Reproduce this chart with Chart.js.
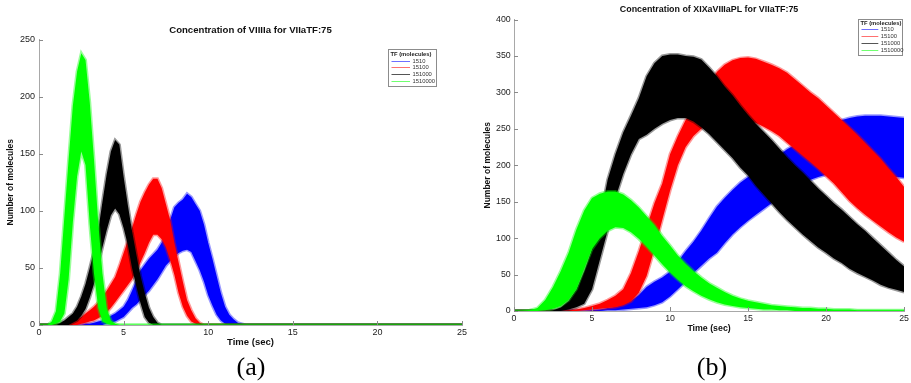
<!DOCTYPE html>
<html>
<head>
<meta charset="utf-8">
<script src="https://cdn.jsdelivr.net/npm/chart.js@4.4.1/dist/chart.umd.min.js"></script>
<style>
  body { margin: 0; background: #fff; width: 911px; height: 383px; overflow: hidden; position: relative; }
  .box { position: absolute; top: 0; height: 355px; }
  #boxA { left: 0; width: 470px; }
  #boxB { left: 470px; width: 441px; }
  .tag { position: absolute; top: 352px; font: 26px "Liberation Serif", "Times New Roman", serif; color: #000; transform: translateX(-50%); }
</style>
</head>
<body>
<div class="box" id="boxA"><canvas id="chartA"></canvas></div>
<div class="box" id="boxB"><canvas id="chartB"></canvas></div>
<div class="tag" style="left:251px">(a)</div>
<div class="tag" style="left:712px">(b)</div>
<script>
const seriesLabels = ['1510', '15100', '151000', '1510000'];
const seriesColors = ['#0000ff', '#ff0000', '#000000', '#00ff00'];
const edgeColors = ['rgba(0,0,255,0.4)', 'rgba(255,0,0,0.4)', 'rgba(0,0,0,0.4)', 'rgba(0,255,0,0.4)'];
const legendColors = ['#6f6fff', '#ff7070', '#555555', '#70ff70'];

// (a) Concentration of VIIIIa -- time in sec, band top/bottom in molecules
const aTime = [0, 0.25, 0.5, 0.75, 1, 1.25, 1.5, 1.75, 2, 2.25, 2.5, 2.75, 3, 3.25, 3.5, 3.75, 4, 4.25, 4.5, 4.75,
  5, 5.25, 5.5, 5.75, 6, 6.25, 6.5, 6.75, 7, 7.25, 7.5, 7.75, 8, 8.25, 8.5, 8.75, 9, 9.25, 9.5, 9.75,
  10, 10.25, 10.5, 10.75, 11, 11.25, 11.5, 11.75, 12, 12.25, 12.5, 25];
const aBlueHi = [0, 0, 0, 0, 0, 0, 0, 0, 0, 0, 0, 1, 1, 2, 3, 4, 6, 8, 10, 13,
  16, 22, 30, 39, 48, 53, 58, 62, 66, 72, 80, 92, 103, 107, 110, 115, 112, 106, 100, 88,
  72, 58, 43, 28, 16, 9, 5, 2, 1, 0, 0, 0];
const aBlueLo = [0, 0, 0, 0, 0, 0, 0, 0, 0, 0, 0, 0, 0, 0, 0, 0, 1, 2, 3, 5,
  7, 11, 15, 18, 22, 26, 30, 35, 40, 46, 52, 56, 60, 63, 65, 66, 64, 56, 48, 38,
  26, 17, 9, 4, 1, 0, 0, 0, 0, 0, 0, 0];
const aRedHi = [0, 0, 0, 0, 0, 0, 0, 2, 4, 5, 7, 10, 13, 16, 20, 25, 30, 36, 42, 52,
  63, 74, 85, 97, 108, 116, 123, 128, 128, 120, 106, 92, 72, 55, 38, 22, 13, 6, 2, 0,
  0, 0, 0, 0, 0, 0, 0, 0, 0, 0, 0, 0];
const aRedLo = [0, 0, 0, 0, 0, 0, 0, 0, 0, 0, 1, 2, 3, 4, 6, 8, 11, 15, 20, 25,
  30, 35, 40, 47, 55, 63, 72, 79, 79, 75, 68, 57, 44, 28, 16, 8, 3, 1, 0, 0,
  0, 0, 0, 0, 0, 0, 0, 0, 0, 0, 0, 0];
const aBlackHi = [0, 0, 0, 0, 0, 2, 4, 7, 10, 16, 25, 36, 50, 65, 83, 108, 132, 152, 162, 158,
  130, 105, 82, 62, 43, 28, 15, 7, 2, 0, 0, 0, 0, 0, 0, 0, 0, 0, 0, 0,
  0, 0, 0, 0, 0, 0, 0, 0, 0, 0, 0, 0];
const aBlackLo = [0, 0, 0, 0, 0, 0, 0, 0, 2, 4, 8, 14, 24, 36, 52, 68, 83, 96, 102, 97,
  85, 70, 50, 34, 19, 7, 2, 0, 0, 0, 0, 0, 0, 0, 0, 0, 0, 0, 0, 0,
  0, 0, 0, 0, 0, 0, 0, 0, 0, 0, 0, 0];
const aGreenHi = [0, 0, 0, 3, 12, 45, 95, 145, 192, 222, 238, 232, 195, 145, 90, 45, 15, 4, 1, 0,
  0, 0, 0, 0, 0, 0, 0, 0, 0, 0, 0, 0, 0, 0, 0, 0, 0, 0, 0, 0,
  0, 0, 0, 0, 0, 0, 0, 0, 0, 0, 0, 0];
const aGreenLo = [0, 0, 0, 0, 1, 3, 10, 40, 90, 130, 152, 140, 88, 45, 15, 3, 1, 0, 0, 0,
  0, 0, 0, 0, 0, 0, 0, 0, 0, 0, 0, 0, 0, 0, 0, 0, 0, 0, 0, 0,
  0, 0, 0, 0, 0, 0, 0, 0, 0, 0, 0, 0];

// (b) Concentration of XIXaVIIIaPL
const bTime = [0, 0.5, 1, 1.5, 2, 2.5, 3, 3.5, 4, 4.5, 5, 5.5, 6, 6.5, 7, 7.5, 8, 8.5, 9, 9.5,
  10, 10.5, 11, 11.5, 12, 12.5, 13, 13.5, 14, 14.5, 15, 15.5, 16, 16.5, 17, 17.5, 18, 18.5, 19, 19.5,
  20, 20.5, 21, 21.5, 22, 22.5, 23, 23.5, 24, 24.5, 25];
const bBlueHi = [0, 0, 0, 0, 0, 0, 0, 0, 0, 0, 1, 2, 4, 6, 9, 14, 22, 33, 40, 46,
  54, 68, 82, 95, 110, 127, 143, 155, 166, 176, 184, 192, 198, 206, 214, 222, 228, 233, 240, 245,
  252, 257, 262, 265, 267, 268, 268, 268, 267, 266, 265];
const bBlueLo = [0, 0, 0, 0, 0, 0, 0, 0, 0, 0, 0, 0, 1, 1, 2, 3, 4, 5, 8, 12,
  20, 30, 40, 52, 62, 72, 80, 93, 105, 115, 124, 132, 140, 148, 156, 163, 170, 175, 180, 184,
  187, 189, 190, 190, 190, 189, 188, 186, 185, 184, 183];
const bRedHi = [0, 0, 0, 0, 0, 0, 0, 1, 2, 4, 7, 10, 15, 21, 30, 52, 82, 115, 148, 175,
  215, 240, 262, 276, 292, 310, 328, 338, 344, 347, 348, 346, 342, 338, 333, 327, 318, 309, 300, 292,
  282, 272, 262, 252, 242, 231, 220, 209, 196, 184, 170];
const bRedLo = [0, 0, 0, 0, 0, 0, 0, 0, 0, 1, 2, 3, 4, 5, 8, 13, 25, 48, 85, 125,
  165, 200, 225, 240, 250, 257, 262, 264, 265, 264, 262, 258, 253, 247, 240, 231, 222, 213, 204, 195,
  185, 175, 163, 151, 141, 132, 124, 116, 108, 101, 95];
const bBlackHi = [0, 0, 0, 0, 0, 1, 5, 14, 30, 55, 85, 125, 180, 215, 245, 268, 292, 322, 340, 350,
  352, 352, 350, 349, 345, 334, 322, 308, 296, 282, 269, 257, 246, 235, 223, 211, 200, 190, 179, 168,
  158, 148, 139, 129, 119, 110, 100, 90, 80, 70, 61];
const bBlackLo = [0, 0, 0, 0, 0, 0, 0, 2, 5, 10, 30, 70, 110, 155, 188, 215, 236, 242, 250, 257,
  262, 265, 265, 260, 252, 243, 232, 221, 210, 197, 186, 172, 160, 148, 136, 125, 115, 105, 96, 87,
  80, 72, 66, 58, 52, 47, 42, 36, 32, 29, 26];
const bGreenHi = [0, 0, 1, 4, 15, 33, 55, 80, 112, 138, 155, 161, 164, 164, 160, 152, 142, 130, 118, 103,
  90, 76, 65, 55, 46, 38, 32, 26, 21, 17, 14, 12, 10, 8, 7, 6, 5, 4, 4, 3,
  3, 2, 2, 2, 1, 1, 1, 1, 1, 1, 1];
const bGreenLo = [0, 0, 0, 0, 1, 3, 7, 15, 30, 58, 85, 100, 110, 115, 114, 108, 99, 88, 76, 64,
  53, 43, 34, 27, 21, 16, 12, 9, 7, 5, 4, 3, 2, 2, 1, 1, 0, 0, 0, 0,
  0, 0, 0, 0, 0, 0, 0, 0, 0, 0, 0];

const FONT = '"Liberation Sans", Arial, sans-serif';

function bands(time, his, los) {
  let sets = [];
  for (let s = 0; s < his.length; s++) {
    let order = his.length - s;
    sets.push({
      label: seriesLabels[s] + ' low',
      data: time.map((t, i) => ({x: t, y: los[s][i]})),
      borderColor: edgeColors[s],
      borderWidth: 3,
      pointRadius: 0,
      fill: false,
      order: order
    });
    sets.push({
      label: seriesLabels[s],
      legendColor: legendColors[s],
      data: time.map((t, i) => ({x: t, y: his[s][i]})),
      borderColor: edgeColors[s],
      borderWidth: 3,
      backgroundColor: seriesColors[s],
      pointRadius: 0,
      fill: '-1',
      order: order
    });
  }
  return sets;
}

// inward tick marks, matlab style
const innerTicks = {
  id: 'innerTicks',
  afterDraw(chart) {
    const ctx = chart.ctx, a = chart.chartArea;
    ctx.save();
    ctx.strokeStyle = '#8a8a8a';
    ctx.lineWidth = 1;
    ctx.beginPath();
    chart.scales.x.ticks.forEach(t => {
      let px = Math.round(chart.scales.x.getPixelForValue(t.value)) + 0.5;
      ctx.moveTo(px, a.bottom);
      ctx.lineTo(px, a.bottom - 4);
    });
    chart.scales.y.ticks.forEach(t => {
      let py = Math.round(chart.scales.y.getPixelForValue(t.value)) + 0.5;
      ctx.moveTo(a.left, py);
      ctx.lineTo(a.left + 4, py);
    });
    ctx.stroke();
    ctx.restore();
  }
};

// title centred over the plot area, not the canvas
const plotTitle = {
  id: 'plotTitle',
  afterDraw(chart, args, o) {
    const ctx = chart.ctx, a = chart.chartArea;
    ctx.save();
    ctx.font = 'bold ' + o.size + 'px ' + FONT;
    ctx.fillStyle = '#111';
    ctx.textAlign = 'center';
    ctx.textBaseline = 'middle';
    ctx.fillText(o.text, (a.left + a.right) / 2, o.y);
    ctx.restore();
  }
};

const boxLegend = {
  id: 'boxLegend',
  afterDraw(chart, args, o) {
    const ctx = chart.ctx;
    const items = chart.data.datasets.filter(d => d.legendColor);
    ctx.save();
    ctx.fillStyle = '#fff';
    ctx.fillRect(o.x, o.y, o.w, o.h);
    ctx.strokeStyle = '#8c8c8c';
    ctx.lineWidth = 1;
    ctx.strokeRect(o.x + 0.5, o.y + 0.5, o.w, o.h);
    ctx.textBaseline = 'middle';
    ctx.fillStyle = '#222';
    ctx.font = 'bold 5.8px ' + FONT;
    ctx.fillText('TF (molecules)', o.x + 2.5, o.y + o.first - o.step + 0.6);
    ctx.font = '5.8px ' + FONT;
    items.forEach((d, i) => {
      let y = Math.round(o.y + o.first + i * o.step) + 0.5;
      ctx.strokeStyle = d.legendColor;
      ctx.lineWidth = 1;
      ctx.beginPath();
      ctx.moveTo(o.x + 3.5, y);
      ctx.lineTo(o.x + o.lineEnd, y);
      ctx.stroke();
      ctx.fillStyle = '#333';
      ctx.fillText(d.label, o.x + o.lineEnd + 2.5, y);
    });
    ctx.restore();
  }
};

function makeChart(id, time, his, los, cfg) {
  return new Chart(document.getElementById(id), {
    type: 'line',
    data: { datasets: bands(time, his, los) },
    options: {
      responsive: true,
      maintainAspectRatio: false,
      animation: false,
      layout: { padding: { left: 0, right: cfg.padRight, top: cfg.padTop, bottom: 0 } },
      plugins: {
        legend: { display: false },
        tooltip: { enabled: false },
        title: { display: false },
        plotTitle: cfg.title,
        boxLegend: cfg.legend
      },
      scales: {
        x: {
          type: 'linear',
          min: 0, max: 25,
          ticks: { stepSize: 5, color: '#222', padding: cfg.xTickPad, font: { family: FONT, size: cfg.tickSize } },
          grid: { drawOnChartArea: false, drawTicks: false },
          border: { color: '#a8a8a8' },
          title: {
            display: true, text: 'Time (sec)', color: '#111',
            font: { family: FONT, size: cfg.xTitleSize, weight: 'bold' },
            padding: { top: 0, bottom: cfg.xTitleBottom }
          },
          afterFit(scale) { scale.height = cfg.xHeight; }
        },
        y: {
          min: 0, max: cfg.yMax,
          ticks: { stepSize: 50, color: '#222', padding: cfg.yTickPad, font: { family: FONT, size: cfg.tickSize } },
          grid: { drawOnChartArea: false, drawTicks: false },
          border: { color: '#a8a8a8' },
          title: {
            display: true, text: 'Number of molecules', color: '#111',
            font: { family: FONT, size: cfg.yTitleSize, weight: 'bold' },
            padding: { top: cfg.yTitleTop, bottom: 0 }
          },
          afterFit(scale) { scale.width = cfg.yWidth; }
        }
      }
    },
    plugins: [innerTicks, plotTitle, boxLegend]
  });
}

makeChart('chartA', aTime,
  [aBlueHi, aRedHi, aBlackHi, aGreenHi], [aBlueLo, aRedLo, aBlackLo, aGreenLo], {
  title: { text: 'Concentration of VIIIIa for VIIaTF:75', size: 9.6, y: 30 },
  padTop: 39.5, padRight: 8, yWidth: 39, xHeight: 30, yMax: 250,
  tickSize: 9, xTickPad: 2, yTickPad: 4,
  xTitleSize: 9.5, xTitleBottom: 7.3,
  yTitleSize: 8.5, yTitleTop: 5.9,
  legend: { x: 388, y: 49, w: 48, h: 37, first: 11.7, step: 6.7, lineEnd: 22 }
});

makeChart('chartB', bTime,
  [bBlueHi, bRedHi, bBlackHi, bGreenHi], [bBlueLo, bRedLo, bBlackLo, bGreenLo], {
  title: { text: 'Concentration of XIXaVIIIaPL for VIIaTF:75', size: 8.9, y: 10 },
  padTop: 19.5, padRight: 6, yWidth: 44, xHeight: 44, yMax: 400,
  tickSize: 8.8, xTickPad: 2, yTickPad: 3.3,
  xTitleSize: 8.8, xTitleBottom: 21.2,
  yTitleSize: 8.5, yTitleTop: 12.6,
  legend: { x: 388, y: 19, w: 44, h: 36, first: 10.3, step: 7, lineEnd: 20.3 }
});
</script>
</body>
</html>
